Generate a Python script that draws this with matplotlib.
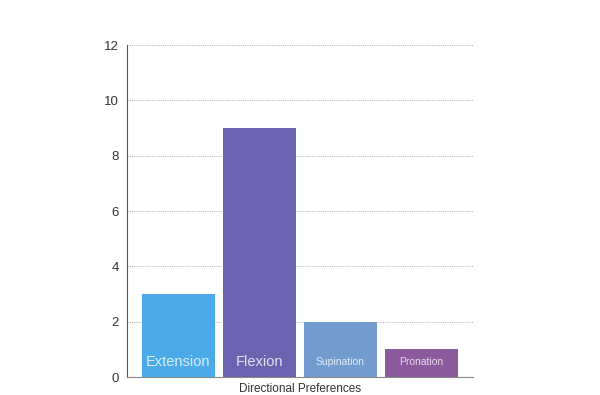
import matplotlib
matplotlib.use("Agg")
import matplotlib.pyplot as plt

plt.rcParams["font.family"] = ["Liberation Sans", "DejaVu Sans"]

categories = ["Extension", "Flexion", "Supination", "Pronation"]
values = [3, 9, 2, 1]
colors = ["#4aabe8", "#6b62b0", "#729ccf", "#8a5a9c"]
label_sizes = [10.5, 10.5, 7.5, 7.5]
yticks = [0, 2, 4, 6, 8, 10, 12]

fig = plt.figure(figsize=(6, 3.95), dpi=100)
ax = fig.add_axes([127/600, 1-377/395, 346/600, (377-45)/395])

x = list(range(len(categories)))
ax.bar(x, values, width=0.9, color=colors, zorder=3)
for xi, cat, fs in zip(x, categories, label_sizes):
    ax.text(xi, 0.55, cat, ha="center", va="center", color="white", alpha=0.8,
            fontsize=fs, zorder=4)

ax.set_xlim(-0.635, 3.635)
ax.set_ylim(0, 12)
ax.set_yticks(yticks)
ax.set_xticks([])
ax.yaxis.grid(True, linestyle=(0, (1, 1)), color="#bbbbbb", linewidth=0.8, zorder=0)
ax.tick_params(axis="y", length=0, labelsize=9.5, pad=6, colors="#333333")
for s in ["top", "right"]:
    ax.spines[s].set_visible(False)
ax.spines["left"].set_color("#555555")
ax.spines["bottom"].set_color("#888888")
ax.set_xlabel("Directional Preferences", fontsize=8.5, color="#333333", labelpad=4)

fig.savefig("out.png", dpi=100)
